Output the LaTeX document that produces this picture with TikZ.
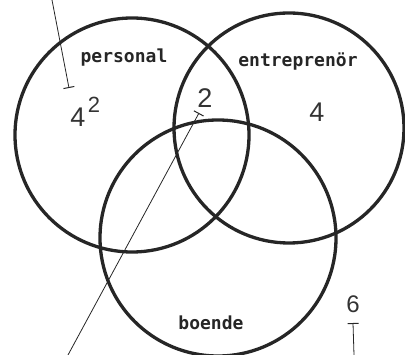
\documentclass[tikz,border=0pt]{standalone}
\usepackage{fontspec}
\setmonofont{DejaVu Sans Mono}
\setsansfont{Liberation Sans}
\usetikzlibrary{arrows.meta}

\begin{document}
\begin{tikzpicture}[x=1pt, y=-1pt,
  ring/.style={draw=black!85, line width=3.3pt},
  setlabel/.style={font=\ttfamily\bfseries\fontsize{18}{18}\selectfont, text=black!85},
  count/.style={font=\sffamily\fontsize{27}{27}\selectfont, text=black!80},
  pointer/.style={draw=black!85, line width=0.8pt, -{Bar[width=11pt, line width=1pt]}}]

% Frame
\useasboundingbox (0,0) rectangle (405,355);
\clip (0,0) rectangle (405,355);

% Sets
\draw[ring] (132,135) circle (117);
\draw[ring] (289,128) circle (115);
\draw[ring] (218,238) circle (118);

% Set names
\node[setlabel] (personal) at (124,58) {personal};
\node[setlabel] (entr) at (298,62) {entreprenör};
\node[setlabel] (boende) at (211,323) {boende};

% Counts
\node[count, anchor=base] (fyra) at (78,127) {4};
\node[count, font=\sffamily\fontsize{22}{22}\selectfont, anchor=base] (fyraexp) at (94,113) {2};
\node[count, anchor=base] (tva) at (205,108) {2};
\node[count, anchor=base] (fyrab) at (317,122) {4};
\node[count, font=\sffamily\fontsize{24}{24}\selectfont, anchor=base] (sex) at (353,313) {6};

% Pointer lines
\coordinate (topfree) at (52,0);
\coordinate (topend) at (69,88);
\coordinate (lowfree) at (68,355);
\coordinate (midend) at (199,113);
\coordinate (rightfree) at (354,355);
\coordinate (rightend) at (353,323);

\draw[pointer] (topfree) -- (topend);
\draw[pointer] (lowfree) -- (midend);
\draw[pointer] (rightfree) -- (rightend);

\end{tikzpicture}
\end{document}
